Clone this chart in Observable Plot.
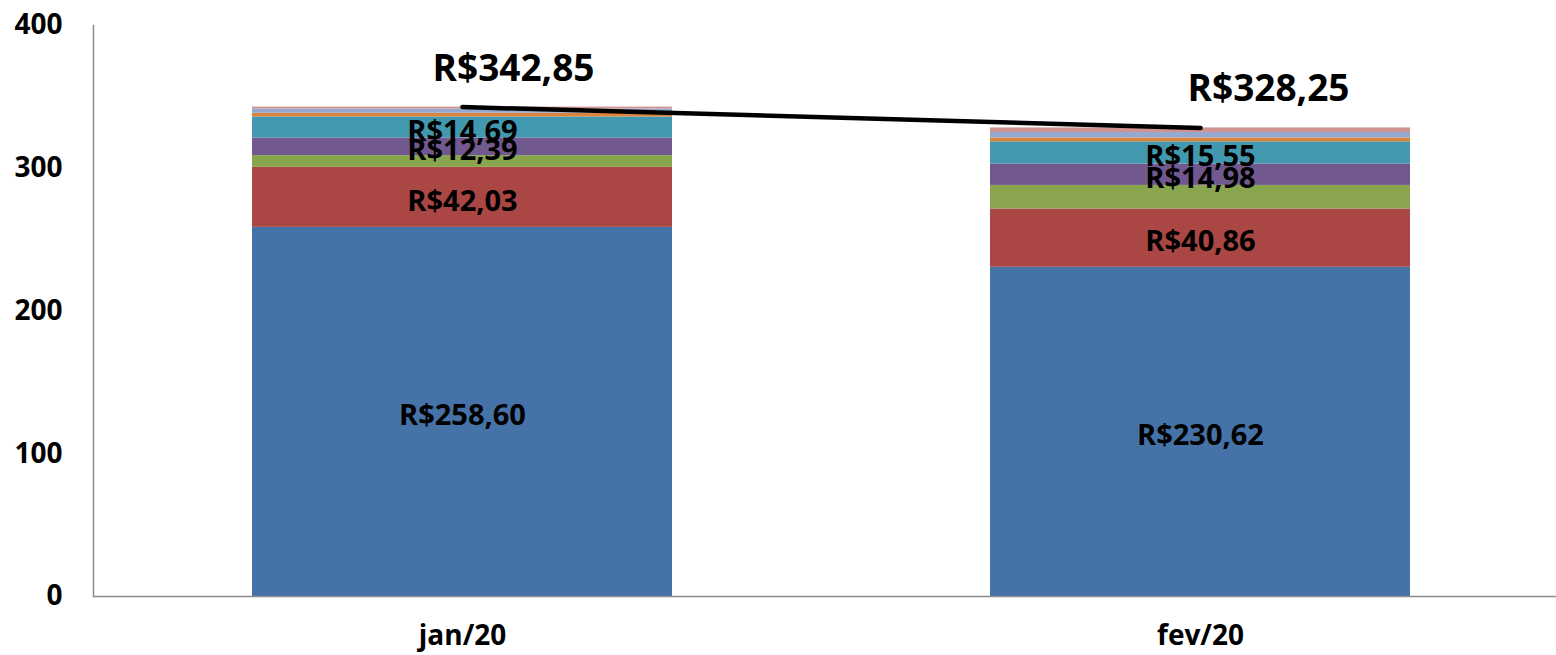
<!DOCTYPE html>
<html>
<head>
<meta charset="utf-8">
<script src="https://cdn.jsdelivr.net/npm/d3@7"></script>
<script src="https://cdn.jsdelivr.net/npm/@observablehq/plot@0.6"></script>
<style>
  html, body { margin: 0; padding: 0; background: #fff; }
  #chart { width: 1556px; height: 655px; }
</style>
</head>
<body>
<div id="chart"></div>
<script>
const months = ["jan/20", "fev/20"];
const seriesNames = ["S1", "S2", "S3", "S4", "S5", "S6", "S7", "S8"];
const seriesColors = ["#4572A7", "#AA4643", "#89A54E", "#71588F", "#4198AF", "#DB843D", "#93A9CF", "#D19392"];
const s1 = [258.60, 230.62];
const s2 = [42.03, 40.86];
const s3 = [8.2, 16.5];
const s4 = [12.39, 14.98];
const s5 = [14.69, 15.55];
const s6 = [2.6, 2.7];
const s7 = [3.0, 3.8];
const s8 = [1.34, 3.24];
const totals = [342.85, 328.25];
const labeledSeries = ["S1", "S2", "S4", "S5"];
const yTicks = [0, 100, 200, 300, 400];

const seriesValues = [s1, s2, s3, s4, s5, s6, s7, s8];
const fmt = v => "R$" + v.toFixed(2).replace(".", ",");

const rows = [];
months.forEach((m, i) => {
  let acc = 0;
  seriesNames.forEach((s, j) => {
    const v = seriesValues[j][i];
    rows.push({month: m, series: s, value: v, mid: acc + v / 2});
    acc += v;
  });
});
const totalRows = months.map((m, i) => ({month: m, total: totals[i]}));
const labelRows = rows.filter(r => labeledSeries.includes(r.series));

const chart = Plot.plot({
  width: 1556,
  height: 655,
  marginLeft: 93,
  marginRight: 0,
  marginTop: 25,
  marginBottom: 59,
  style: {fontFamily: "'Open Sans', sans-serif", fontWeight: "bold", color: "#000", background: "#fff"},
  x: {domain: months, paddingInner: 0.431, paddingOuter: 0.2066, align: 0.521, label: null},
  y: {domain: [0, 400], label: null},
  color: {domain: seriesNames, range: seriesColors},
  marks: [
    Plot.barY(rows, Plot.stackY({x: "month", y: "value", fill: "series", order: null})),
    Plot.ruleY([0], {stroke: "#8c8c8c", strokeWidth: 1.5}),
    Plot.frame({anchor: "left", stroke: "#8c8c8c", strokeWidth: 1.5}),
    Plot.axisY({ticks: yTicks, tickSize: 0, tickPadding: 31, fontSize: 28, fontWeight: "bold", label: null}),
    Plot.axisX({tickSize: 0, tickPadding: 29, fontSize: 28, fontWeight: "bold", label: null}),
    Plot.text(labelRows, {x: "month", y: "mid", text: d => fmt(d.value), fontSize: 29, fontWeight: "bold", fill: "#000", dy: 4}),
    Plot.line(totalRows, {x: "month", y: "total", stroke: "#000", strokeWidth: 4.5, strokeLinecap: "round"}),
    Plot.text(totalRows.filter(d => d.month === "jan/20"), {x: "month", y: "total", text: d => fmt(d.total), fontSize: 37, fontWeight: "bold", fill: "#000", dx: 51, dy: -38}),
    Plot.text(totalRows.filter(d => d.month === "fev/20"), {x: "month", y: "total", text: d => fmt(d.total), fontSize: 37, fontWeight: "bold", fill: "#000", dx: 68, dy: -39})
  ]
});
document.getElementById("chart").appendChild(chart);
</script>
</body>
</html>
